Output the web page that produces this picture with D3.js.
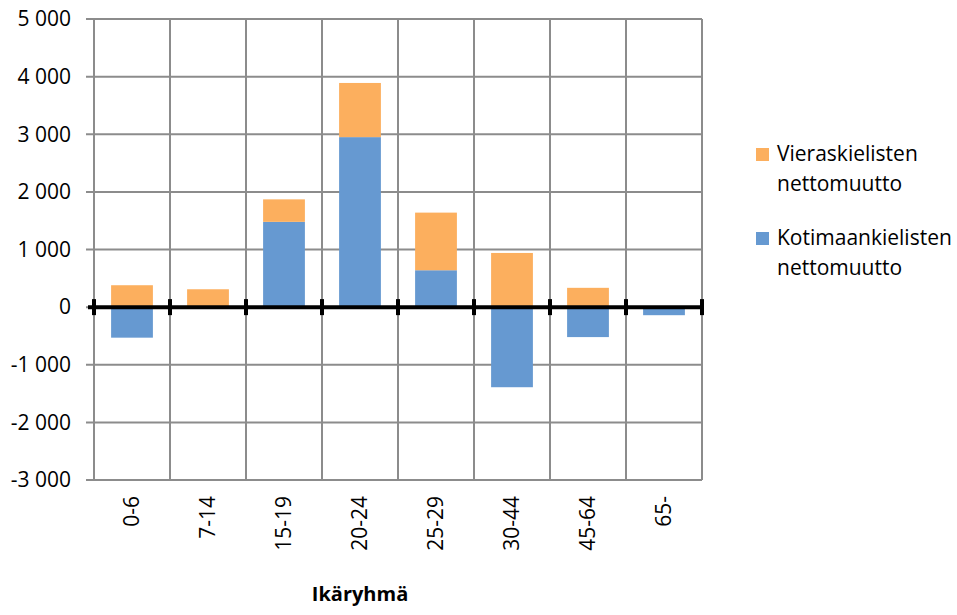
<!DOCTYPE html>
<html><head><meta charset="utf-8">
<script src="https://cdn.jsdelivr.net/npm/d3@7"></script>
<style>body{margin:0;background:#fff;} svg{display:block;font-family:"Open Sans", Lato, sans-serif;}</style>
</head><body>
<svg id="c" width="957" height="615"></svg>
<script>
const categories = ["0-6","7-14","15-19","20-24","25-29","30-44","45-64","65-"];
const kotimaankieliset = [-530, 0, 1480, 2950, 640, -1390, -520, -140];
const vieraskieliset = [380, 310, 390, 940, 1000, 940, 335, 0];
const yTicks = [-3000,-2000,-1000,0,1000,2000,3000,4000,5000];
const seriesNames = ["Kotimaankielisten nettomuutto","Vieraskielisten nettomuutto"];
const colors = {"koti":"#6699d1","vieras":"#fcaf5e"};

const svg = d3.select("#c");
const L=94, R=702, T=19, B=480;
const x = d3.scaleBand().domain(categories).range([L,R]).paddingInner(0.45).paddingOuter(0.225);
const y = d3.scaleLinear().domain([-3000,5000]).range([B,T]);
const grid = "#8c8c8c";

const rows = categories.map((c,i)=>({cat:c, koti:kotimaankieliset[i], vieras:vieraskieliset[i]}));
const stack = d3.stack().keys(["koti","vieras"]).offset(d3.stackOffsetDiverging)(rows);

svg.append("g").selectAll("line").data(yTicks).join("line")
  .attr("x1",L-8).attr("x2",R).attr("y1",d=>y(d)).attr("y2",d=>y(d))
  .attr("stroke",grid).attr("stroke-width",2);
const gap = (x.step()-x.bandwidth())/2;
const bounds = categories.map(c=>x(c)-gap).concat([R]);
svg.append("g").selectAll("line").data(bounds).join("line")
  .attr("x1",d=>d).attr("x2",d=>d).attr("y1",T).attr("y2",B)
  .attr("stroke",grid).attr("stroke-width",2);

svg.append("g").selectAll("g").data(stack).join("g")
  .attr("fill",d=>colors[d.key])
  .selectAll("rect").data(d=>d).join("rect")
  .attr("x",d=>x(d.data.cat)).attr("width",x.bandwidth())
  .attr("y",d=>y(Math.max(d[0],d[1]))).attr("height",d=>Math.abs(y(d[0])-y(d[1])));

svg.append("line").attr("x1",L-6).attr("x2",R+2).attr("y1",y(0)).attr("y2",y(0))
  .attr("stroke","#000").attr("stroke-width",4);
svg.append("g").selectAll("rect").data(bounds).join("rect")
  .attr("x",d=>d-2).attr("width",4).attr("y",y(0)-8).attr("height",16).attr("fill","#000");

const fmt = v => { const s = d3.format(",")(Math.abs(v)).replace(/,/g," "); return (v<0?"-":"")+s; };
svg.append("g").selectAll("text").data(yTicks).join("text")
  .attr("x",71).attr("y",d=>y(d)).attr("dy","0.35em").attr("text-anchor","end")
  .attr("font-size",21).attr("fill","#000").text(fmt);

svg.append("g").selectAll("text").data(categories).join("text")
  .attr("transform",d=>`translate(${x(d)+x.bandwidth()/2},496) rotate(-90)`)
  .attr("text-anchor","end").attr("dy","0.35em").attr("font-size",21).attr("fill","#000").text(d=>d);

svg.append("text").attr("x",360).attr("y",601).attr("text-anchor","middle")
  .attr("font-size",20).attr("font-weight","bold").attr("fill","#000").text("Ikäryhmä");

const leg = [
  {key:"vieras", lines:["Vieraskielisten","nettomuutto"], y:148},
  {key:"koti", lines:["Kotimaankielisten","nettomuutto"], y:232}
];
const lg = svg.append("g").selectAll("g").data(leg).join("g");
lg.append("rect").attr("x",756).attr("y",d=>d.y).attr("width",13).attr("height",13).attr("fill",d=>colors[d.key]);
lg.each(function(d){
  d3.select(this).selectAll("text").data(d.lines).join("text")
    .attr("x",777).attr("y",(t,i)=>d.y+13+i*30).attr("font-size",21).attr("fill","#000").text(t=>t);
});
</script>
</body></html>
